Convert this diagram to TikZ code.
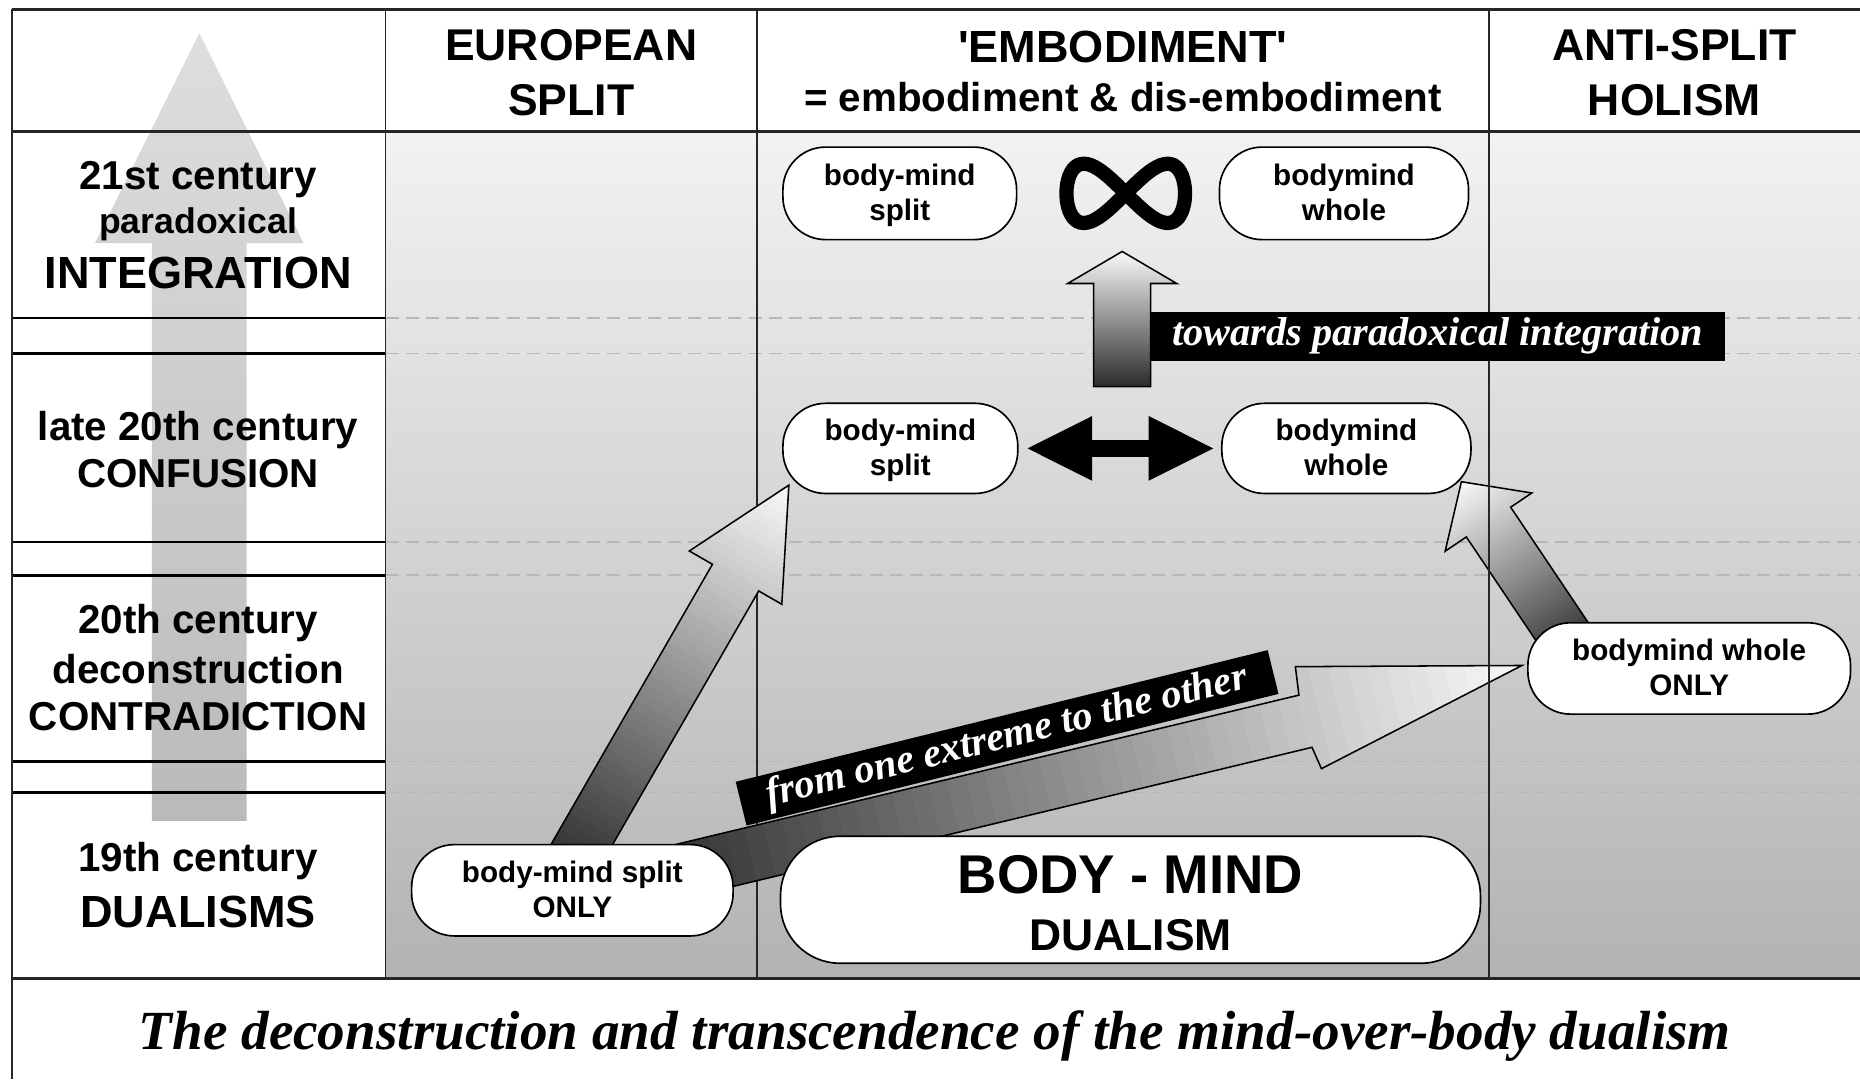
\documentclass[tikz,border=0pt]{standalone}
\usepackage{fontspec}
\setmainfont{Liberation Sans}
\newfontfamily\captionserif{Liberation Serif}
\usetikzlibrary{arrows.meta}

% straight apostrophe, bypassing the TeX quote mapping
\newcommand{\sq}{\XeTeXglyph\XeTeXglyphindex "quotesingle"\relax}

% grey ramp along the local x axis, dark at the tail, light at the head
\newcommand{\shadestrips}[1]{%
  \foreach \k in {0,...,47}{%
    \pgfmathsetmacro{\tone}{82-79*\k/47}%
    \pgfmathsetmacro{\xa}{#1/48*\k}%
    \pgfmathsetmacro{\xb}{#1/48*(\k+1)+1.5}%
    \fill[black!\tone] (\xa,-130) rectangle (\xb,130);
  }}

% block arrow: #1 tail, #2 angle, #3 length, #4 shaft half width,
% #5 head half width, #6 head length
\newcommand{\shadedarrow}[6]{%
  \begin{scope}[shift={(#1)}, rotate=#2]
    \begin{scope}
      \clip (0,-#4) -- ({#3-#6},-#4) -- ({#3-#6},-#5) -- (#3,0) -- ({#3-#6},#5) -- ({#3-#6},#4) -- (0,#4) -- cycle;
      \shadestrips{#3}
    \end{scope}
    \draw[arrowline] (0,-#4) -- ({#3-#6},-#4) -- ({#3-#6},-#5) -- (#3,0) -- ({#3-#6},#5) -- ({#3-#6},#4) -- (0,#4) -- cycle;
  \end{scope}}

\begin{document}
\begin{tikzpicture}[x=1pt, y=-1pt, line join=miter,
  framerule/.style={black!85, line width=2pt},
  colrule/.style={black!85, line width=1.5pt},
  rowrule/.style={black, line width=2pt},
  dashrule/.style={black!28, line width=1.5pt, dash pattern=on 11pt off 6pt},
  hdrtext/.style={anchor=base, font=\bfseries\fontsize{37.5}{40}\selectfont},
  subtext/.style={anchor=base, font=\bfseries\fontsize{34}{40}\selectfont},
  rowtext/.style={anchor=base, font=\bfseries\fontsize{34}{40}\selectfont},
  rowbig/.style={anchor=base, font=\bfseries\fontsize{38}{40}\selectfont},
  pill/.style={draw=black, line width=1.4pt, fill=white, rounded corners=36pt,
    align=center, inner sep=0pt, text depth=2pt, font=\bfseries\fontsize{25}{30}\selectfont},
  blacklabel/.style={fill=black, text=white, inner sep=0pt,
    font=\captionserif\bfseries\itshape\fontsize{34}{36}\selectfont},
  arrowline/.style={draw=black, line width=1.3pt},
]
\useasboundingbox (0,0) rectangle (1568,910);
\fill[white] (0,0) rectangle (1568,910);

% grey body of the table
\shade[top color=black!5, bottom color=black!30] (325,111) rectangle (1568,825);

% time arrow in the first column
\shade[top color=black!13, bottom color=black!27]
  (168,28) -- (256,205) -- (208,205) -- (208,692) -- (128,692) -- (128,205) -- (80,205) -- cycle;

% row separators
\foreach \yy in {268,298,457,485,642,668}{
  \draw[dashrule] (325,\yy) -- (1568,\yy);
  \draw[rowrule] (10,\yy) -- (325,\yy);
}

% frame and column rules
\draw[framerule] (10,8) -- (1568,8);
\draw[framerule] (10,8) -- (10,910);
\draw[framerule] (10,111) -- (1568,111);
\draw[framerule] (10,825) -- (1568,825);
\draw[colrule] (325,8) -- (325,825);
\draw[colrule] (638,8) -- (638,825);

% block arrows
\coordinate (a1tail) at (476,737);
\coordinate (a3tail) at (1330,552);
\coordinate (a4tail) at (946,326);
\coordinate (a2tail) at (540,742.5);
\shadedarrow{a1tail}{60.05}{378.6}{22.5}{45}{90}
\shadedarrow{a3tail}{123.9}{175.8}{22.5}{44}{41}
\shadedarrow{a4tail}{90}{114}{24}{46}{27}

\begin{scope}
  \clip (540,719) -- (1095,586) -- (1092,562) -- (1283,561) -- (1114,648) -- (1106,630) -- (540,766) -- cycle;
  \begin{scope}[shift={(a2tail)}, rotate=13.7]
    \shadestrips{765}
  \end{scope}
\end{scope}
\draw[arrowline] (540,719) -- (1095,586) -- (1092,562) -- (1283,561) -- (1114,648) -- (1106,630) -- (540,766) -- cycle;

\draw[colrule] (1255,8) -- (1255,825);

% labels on black bands
\node[blacklabel, rotate=13.9, minimum width=462pt, minimum height=38pt] (lab2) at (849,622) {from one extreme to the other};
\node[blacklabel, minimum width=484pt, minimum height=41pt] (lab1) at (1212,283.5) {towards paradoxical integration};

% column heads
\node[hdrtext] (eu1) at (481.5,51) {EUROPEAN};
\node[hdrtext] (eu2) at (481.5,97) {SPLIT};
\node[anchor=base, font=\bfseries\fontsize{38}{40}\selectfont] (em1) at (946.5,53) {\sq EMBODIMENT\sq};
\node[subtext] (em2) at (946.5,94) {= embodiment \& dis-embodiment};
\node[hdrtext] (as1) at (1411.5,51) {ANTI-SPLIT};
\node[hdrtext] (as2) at (1411.5,97) {HOLISM};

% period labels
\node[rowtext] (p1a) at (167,160) {21st century};
\node[anchor=base, font=\bfseries\fontsize{30}{34}\selectfont] (p1b) at (167,197) {paradoxical};
\node[rowbig] (p1c) at (167,243) {INTEGRATION};
\node[rowtext] (p2a) at (167,371) {late 20th century};
\node[rowtext] (p2b) at (167,411) {CONFUSION};
\node[rowtext] (p3a) at (167,534) {20th century};
\node[rowtext] (p3b) at (167,576) {deconstruction};
\node[rowtext] (p3c) at (167,616) {CONTRADICTION};
\node[rowtext] (p4a) at (167,735) {19th century};
\node[rowbig] (p4b) at (167,782) {DUALISMS};

% positions
\node[pill, minimum width=197pt, minimum height=78pt] (ts) at (758.5,163) {body-mind\\split};
\node[pill, minimum width=210pt, minimum height=78pt] (tw) at (1133,163) {bodymind\\whole};
\node[pill, minimum width=198pt, minimum height=76pt] (ms) at (759,378) {body-mind\\split};
\node[pill, minimum width=210pt, minimum height=76pt] (mw) at (1135,378) {bodymind\\whole};
\node[pill, minimum width=272pt, minimum height=77pt] (wo) at (1424,563.5) {bodymind whole\\ONLY};
\node[pill, minimum width=271pt, minimum height=77pt] (so) at (482.5,750.5) {body-mind split\\ONLY};
\node[pill, minimum width=590pt, minimum height=107pt, rounded corners=50pt] (bm) at (953,758.5) {};
\node[anchor=base, font=\bfseries\fontsize{46}{48}\selectfont] (bmtop) at (953,753) {BODY - MIND};
\node[anchor=base, font=\bfseries\fontsize{37.5}{40}\selectfont] (bmbot) at (953,801) {DUALISM};

% oscillation between the two positions
\draw[line width=15pt, {Triangle[length=56pt 0 0, width=50pt 0 0]}-{Triangle[length=56pt 0 0, width=50pt 0 0]}]
  ([xshift=6pt]ms.east) -- ([xshift=-5pt]mw.west);

% infinity sign between the integrated positions
\draw[line width=12pt] plot[smooth cycle, samples=40, domain=0:351, variable=\t]
  ({949+50*cos(\t)}, {163+50*sin(\t)*cos(\t)});

% caption
\node[anchor=base, font=\captionserif\bfseries\itshape\fontsize{46.5}{50}\selectfont] (caption) at (788,885)
  {The deconstruction and transcendence of the mind-over-body dualism};
\end{tikzpicture}
\end{document}
